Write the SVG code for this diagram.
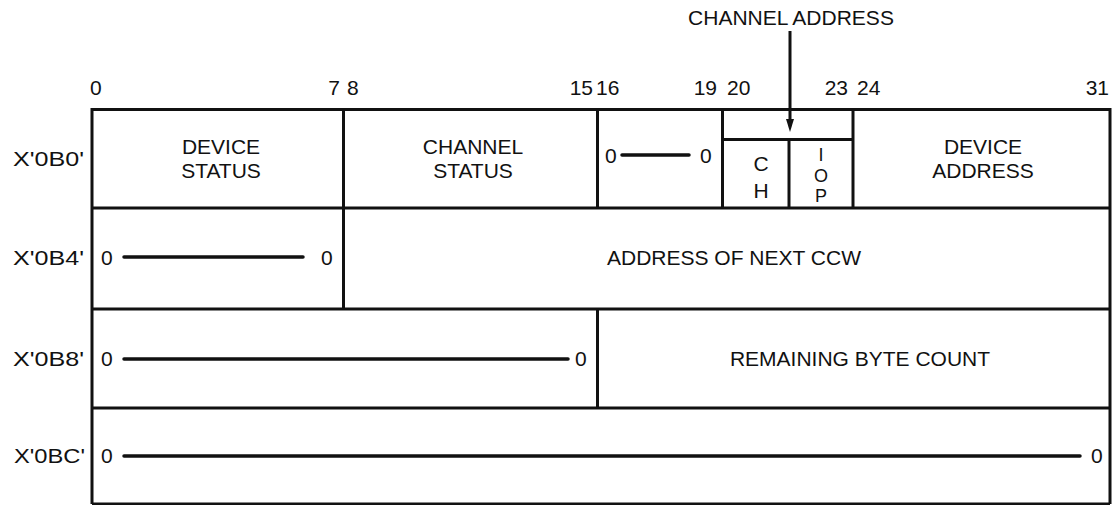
<svg xmlns="http://www.w3.org/2000/svg" width="1118" height="505" viewBox="0 0 1118 505">
<defs>
<style>
text{font-family:"Liberation Sans",Arial,sans-serif;font-size:21px;fill:#111}
.m{text-anchor:middle}
.e{text-anchor:end}
.s{font-size:18px}
.ln{stroke:#111;stroke-width:3;fill:none}
.z{stroke:#111;stroke-width:3.5;stroke-linecap:round}
</style>
</defs>
<rect width="1118" height="505" fill="#fff"/>

<g id="bit-numbers">
<text x="90" y="95">0</text>
<text x="340" y="95" class="e">7</text>
<text x="347" y="95">8</text>
<text x="593" y="95" class="e">15</text>
<text x="596" y="95">16</text>
<text x="717" y="95" class="e">19</text>
<text x="727" y="95">20</text>
<text x="848" y="95" class="e">23</text>
<text x="857" y="95">24</text>
<text x="1109" y="95" class="e">31</text>
</g>

<g id="row-labels">
<text x="13" y="166" textLength="71" lengthAdjust="spacingAndGlyphs">X'0B0'</text>
<text x="13" y="265" textLength="71" lengthAdjust="spacingAndGlyphs">X'0B4'</text>
<text x="13" y="366" textLength="71" lengthAdjust="spacingAndGlyphs">X'0B8'</text>
<text x="14" y="463" textLength="71" lengthAdjust="spacingAndGlyphs">X'0BC'</text>
</g>

<g id="frame">
<path class="ln" d="M92,504 V109.5 H1110 V504 M92,208 H1110 M92,309 H1110 M92,408 H1110 M92,504 H1110"/>
</g>

<g id="device-status">
<path class="ln" d="M343.5,109.5 V309"/>
<text x="221" y="154" class="m">DEVICE</text>
<text x="221" y="178" class="m">STATUS</text>
</g>
<g id="channel-status">
<path class="ln" d="M597.5,109.5 V208"/>
<text x="473" y="154" class="m">CHANNEL</text>
<text x="473" y="178" class="m">STATUS</text>
</g>
<g id="zero-16-19">
<path class="ln" d="M722.5,109.5 V208"/>
<text x="605" y="163">0</text>
<path class="z" d="M622,155 H689"/>
<text x="700" y="163">0</text>
</g>
<g id="channel-address">
<path class="ln" d="M722.5,139.5 H853"/>
<path class="ln" d="M789,139.5 V208"/>
<text x="761" y="171" class="m">C</text>
<text x="761" y="198" class="m">H</text>
<text x="821" y="161" class="m s">I</text>
<text x="821" y="181.5" class="m s">O</text>
<text x="821" y="202" class="m s">P</text>
</g>
<g id="device-address">
<path class="ln" d="M853,109.5 V208"/>
<text x="983" y="154" class="m">DEVICE</text>
<text x="983" y="178" class="m">ADDRESS</text>
</g>

<g id="zero-0-7">
<text x="101" y="265">0</text>
<path class="z" d="M124,257 H303"/>
<text x="321" y="265">0</text>
</g>
<g id="next-ccw">
<text x="734" y="265" class="m">ADDRESS OF NEXT CCW</text>
</g>

<g id="zero-0-15">
<path class="ln" d="M597.5,309 V408"/>
<text x="101" y="366">0</text>
<path class="z" d="M124,359 H568"/>
<text x="575" y="366">0</text>
</g>
<g id="byte-count">
<text x="860" y="366" class="m">REMAINING BYTE COUNT</text>
</g>

<g id="zero-0-31">
<text x="101" y="463">0</text>
<path class="z" d="M124,456 H1080"/>
<text x="1091" y="463">0</text>
</g>

<g id="connectors">
<text x="791" y="25" class="m">CHANNEL ADDRESS</text>
<path d="M790,31 V121" stroke="#111" stroke-width="3" fill="none"/>
<path d="M786,119 L794,119 L790,132 Z" fill="#111"/>
</g>
</svg>
